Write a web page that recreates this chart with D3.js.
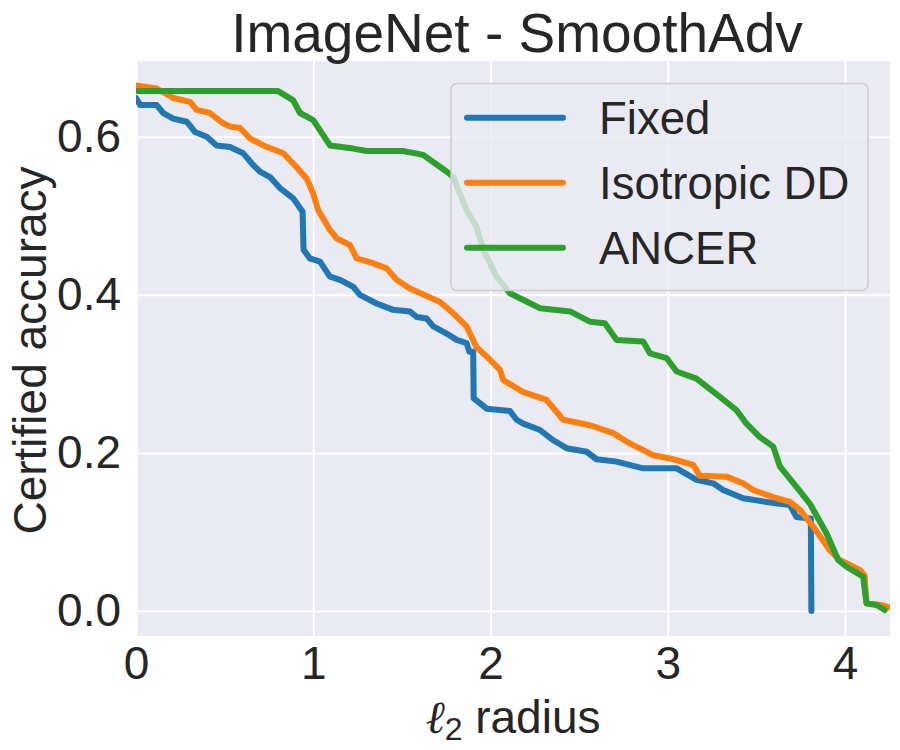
<!DOCTYPE html>
<html>
<head>
<meta charset="utf-8">
<script src="https://cdn.jsdelivr.net/npm/d3@7"></script>
<style>
  body { margin: 0; background: #fff; }
  text { font-family: "Liberation Sans", Arial, sans-serif; fill: #262626; }
</style>
</head>
<body>
<svg width="900" height="750"></svg>
<script>
// series: [radius, certified accuracy]
const fixedPts = [
    [0.0, 0.649], [0.023, 0.640], [0.117, 0.640], [0.154, 0.630], [0.21, 0.623], [0.286, 0.619],
    [0.333, 0.606], [0.399, 0.600], [0.455, 0.589], [0.53, 0.587], [0.605, 0.579], [0.662, 0.564],
    [0.699, 0.556], [0.756, 0.549], [0.812, 0.535], [0.887, 0.522], [0.94, 0.505], [0.945, 0.457],
    [0.981, 0.446], [1.038, 0.442], [1.094, 0.423], [1.151, 0.419], [1.226, 0.410], [1.263, 0.400],
    [1.357, 0.389], [1.451, 0.381], [1.545, 0.379], [1.583, 0.372], [1.64, 0.370], [1.677, 0.360],
    [1.752, 0.351], [1.809, 0.343], [1.865, 0.339], [1.88, 0.328], [1.902, 0.328], [1.905, 0.269],
    [1.94, 0.263], [1.978, 0.256], [2.11, 0.253], [2.147, 0.242], [2.185, 0.237], [2.279, 0.229],
    [2.354, 0.216], [2.429, 0.206], [2.542, 0.2015], [2.598, 0.192], [2.711, 0.189], [2.861, 0.1805],
    [3.05, 0.1805], [3.162, 0.166], [3.256, 0.1615], [3.312, 0.153], [3.425, 0.1426], [3.557, 0.138],
    [3.689, 0.134], [3.726, 0.119], [3.801, 0.117], [3.807, 0.117], [3.81, 0.0]
];
const isoPts = [
    [0.0, 0.665], [0.117, 0.661], [0.21, 0.649], [0.305, 0.644], [0.342, 0.634], [0.417, 0.630],
    [0.492, 0.617], [0.53, 0.613], [0.587, 0.611], [0.643, 0.598], [0.718, 0.589], [0.831, 0.579],
    [0.887, 0.566], [0.963, 0.547], [1.0, 0.528], [1.028, 0.507], [1.094, 0.482], [1.132, 0.4715],
    [1.207, 0.463], [1.245, 0.446], [1.338, 0.44], [1.414, 0.4335], [1.47, 0.419], [1.545, 0.408],
    [1.64, 0.3985], [1.715, 0.391], [1.79, 0.3766], [1.865, 0.360], [1.92, 0.334], [1.978, 0.322],
    [2.053, 0.305], [2.072, 0.292], [2.185, 0.277], [2.316, 0.267], [2.41, 0.242], [2.561, 0.235],
    [2.692, 0.225], [2.786, 0.212], [2.918, 0.197], [3.012, 0.193], [3.143, 0.185], [3.181, 0.171],
    [3.331, 0.170], [3.425, 0.1615], [3.482, 0.153], [3.595, 0.144], [3.689, 0.138], [3.745, 0.128],
    [3.82, 0.107], [3.914, 0.077], [3.97, 0.0645], [4.083, 0.052], [4.11, 0.045], [4.121, 0.0097],
    [4.2, 0.0076], [4.26, 0.004]
];
const ancerPts = [
    [0.0, 0.658], [0.80, 0.658], [0.887, 0.646], [0.925, 0.630], [1.0, 0.621], [1.094, 0.589],
    [1.226, 0.585], [1.30, 0.582], [1.506, 0.582], [1.62, 0.577], [1.676, 0.568], [1.752, 0.556],
    [1.79, 0.549], [1.865, 0.507], [1.92, 0.486], [1.96, 0.457], [2.034, 0.423], [2.109, 0.402],
    [2.279, 0.383], [2.448, 0.379], [2.561, 0.366], [2.645, 0.364], [2.711, 0.343], [2.861, 0.341],
    [2.899, 0.326], [2.993, 0.320], [3.05, 0.303], [3.162, 0.294], [3.294, 0.271], [3.388, 0.254],
    [3.444, 0.237], [3.519, 0.220], [3.595, 0.208], [3.632, 0.183], [3.726, 0.157], [3.801, 0.136],
    [3.896, 0.098], [3.961, 0.0645], [4.008, 0.056], [4.102, 0.0434], [4.121, 0.0097], [4.178, 0.0076],
    [4.224, 0.0013]
];

const seriesNames = ['Fixed', 'Isotropic DD', 'ANCER'];
const seriesColors = ['#1f77b4', '#ff7f0e', '#2ca02c'];
const xTicks = [0, 1, 2, 3, 4];
const yTicks = [0.0, 0.2, 0.4, 0.6];

const series = [fixedPts, isoPts, ancerPts];

const plotL = 136, plotR = 890, plotT = 61, plotB = 636;
const fontFamily = '"Liberation Sans", Arial, sans-serif';

const svg = d3.select('svg');

const x = d3.scaleLinear()
    .domain([0, 4.2535])
    .range([plotL, plotR]);

const y = d3.scaleLinear()
    .domain([-0.0316, 0.6958])
    .range([plotB, plotT]);

// axes background
svg.append('rect')
    .attr('x', plotL)
    .attr('y', plotT)
    .attr('width', plotR - plotL)
    .attr('height', plotB - plotT)
    .attr('fill', '#eaeaf2');

svg.append('clipPath')
    .attr('id', 'plot-clip')
    .append('rect')
    .attr('x', plotL)
    .attr('y', plotT)
    .attr('width', plotR - plotL)
    .attr('height', plotB - plotT);

// grid
svg.append('g')
    .attr('class', 'x-grid')
    .attr('transform', `translate(0,${plotB})`)
    .call(d3.axisBottom(x).tickValues(xTicks).tickSize(-(plotB - plotT)).tickFormat(''))
    .call(g => g.select('.domain').remove())
    .call(g => g.selectAll('line').attr('stroke', '#fff').attr('stroke-width', 2));

svg.append('g')
    .attr('class', 'y-grid')
    .attr('transform', `translate(${plotL},0)`)
    .call(d3.axisLeft(y).tickValues(yTicks).tickSize(-(plotR - plotL)).tickFormat(''))
    .call(g => g.select('.domain').remove())
    .call(g => g.selectAll('line').attr('stroke', '#fff').attr('stroke-width', 2));

// tick labels
svg.append('g')
    .attr('class', 'x-axis')
    .attr('transform', `translate(0,${plotB})`)
    .call(d3.axisBottom(x).tickValues(xTicks).tickSize(0).tickPadding(10).tickFormat(d3.format('d')))
    .call(g => g.select('.domain').remove())
    .call(g => g.selectAll('text').attr('font-size', 46).attr('fill', '#262626')
        .attr('font-family', fontFamily));

svg.append('g')
    .attr('class', 'y-axis')
    .attr('transform', `translate(${plotL},0)`)
    .call(d3.axisLeft(y).tickValues(yTicks).tickSize(0).tickPadding(15).tickFormat(d3.format('.1f')))
    .call(g => g.select('.domain').remove())
    .call(g => g.selectAll('text').attr('font-size', 46).attr('fill', '#262626')
        .attr('font-family', fontFamily));

// curves
const line = d3.line()
    .x(d => x(d[0]))
    .y(d => y(d[1]));

svg.append('g')
    .attr('clip-path', 'url(#plot-clip)')
    .selectAll('.curve')
    .data(series)
    .enter().append('path')
    .attr('class', 'curve')
    .attr('d', line)
    .attr('fill', 'none')
    .attr('stroke', (d, i) => seriesColors[i])
    .attr('stroke-width', 6)
    .attr('stroke-linejoin', 'round')
    .attr('stroke-linecap', 'round');

// legend
const legend = svg.append('g').attr('class', 'legend');
legend.append('rect')
    .attr('x', 451)
    .attr('y', 83.5)
    .attr('width', 417)
    .attr('height', 207)
    .attr('rx', 6)
    .attr('fill', '#eaeaf2')
    .attr('fill-opacity', 0.8)
    .attr('stroke', '#cccccc')
    .attr('stroke-width', 1.5);

const items = legend.selectAll('.item')
    .data(seriesNames)
    .enter().append('g')
    .attr('class', 'item')
    .attr('transform', (d, i) => `translate(0,${117.7 + i * 65})`);

items.append('line')
    .attr('x1', 467)
    .attr('x2', 563)
    .attr('stroke', (d, i) => seriesColors[i])
    .attr('stroke-width', 6)
    .attr('stroke-linecap', 'round');

items.append('text')
    .attr('x', 599)
    .attr('y', 16.5)
    .attr('font-size', 45.5)
    .text(d => d);

// title and labels
svg.append('text')
    .attr('x', (plotL + plotR) / 2 + 4)
    .attr('y', 52)
    .attr('text-anchor', 'middle')
    .attr('font-size', 55)
    .text('ImageNet - SmoothAdv');

const xl = svg.append('text')
    .attr('x', (plotL + plotR) / 2)
    .attr('y', 733)
    .attr('text-anchor', 'middle')
    .attr('font-size', 46);
xl.append('tspan').attr('font-style', 'italic').attr('font-family', '"DejaVu Serif", serif').text('ℓ');
xl.append('tspan').attr('font-size', 32).attr('dy', 7).text('2');
xl.append('tspan').attr('dy', -7).text(' radius');

svg.append('text')
    .attr('text-anchor', 'middle')
    .attr('transform', `translate(46, ${(plotT + plotB) / 2 + 2}) rotate(-90)`)
    .attr('font-size', 46)
    .text('Certified accuracy');
</script>
</body>
</html>
